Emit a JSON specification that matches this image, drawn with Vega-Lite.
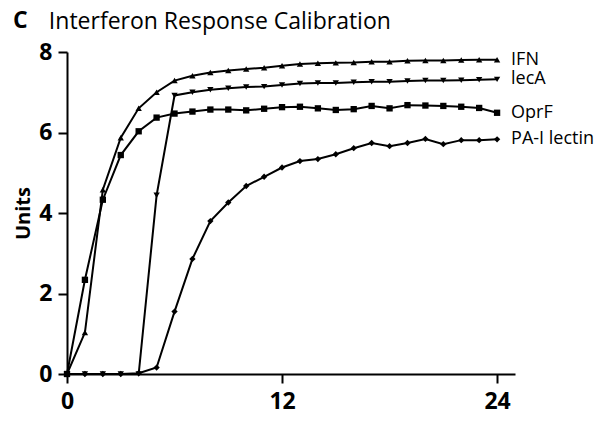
{
  "$schema": "https://vega.github.io/schema/vega-lite/v6.json",
  "width": 448,
  "height": 322,
  "autosize": {"type": "none"},
  "padding": {"left": 67, "top": 52, "right": 85, "bottom": 50},
  "background": "white",
  "title": {
    "text": "C",
    "subtitle": "\u200b\u00a0\u00a0\u00a0\u00a0\u00a0\u00a0Interferon Response Calibration",
    "anchor": "start",
    "frame": "group",
    "dx": -54,
    "offset": 7,
    "font": "Open Sans",
    "fontSize": 23,
    "fontWeight": "bold",
    "color": "black",
    "subtitleFont": "Open Sans",
    "subtitleFontSize": 23,
    "subtitleFontWeight": "normal",
    "subtitleColor": "black",
    "subtitlePadding": -22
  },
  "config": {
    "view": {"stroke": null},
    "font": "Open Sans"
  },
  "data": {
    "values": [
      {"t": 0, "series": "IFN", "v": 0},
      {"t": 1, "series": "IFN", "v": 1.03},
      {"t": 2, "series": "IFN", "v": 4.58},
      {"t": 3, "series": "IFN", "v": 5.87},
      {"t": 4, "series": "IFN", "v": 6.6},
      {"t": 5, "series": "IFN", "v": 7.0},
      {"t": 6, "series": "IFN", "v": 7.29},
      {"t": 7, "series": "IFN", "v": 7.41},
      {"t": 8, "series": "IFN", "v": 7.49},
      {"t": 9, "series": "IFN", "v": 7.54},
      {"t": 10, "series": "IFN", "v": 7.58},
      {"t": 11, "series": "IFN", "v": 7.61},
      {"t": 12, "series": "IFN", "v": 7.66},
      {"t": 13, "series": "IFN", "v": 7.7},
      {"t": 14, "series": "IFN", "v": 7.72},
      {"t": 15, "series": "IFN", "v": 7.73},
      {"t": 16, "series": "IFN", "v": 7.74},
      {"t": 17, "series": "IFN", "v": 7.76},
      {"t": 18, "series": "IFN", "v": 7.76},
      {"t": 19, "series": "IFN", "v": 7.78},
      {"t": 20, "series": "IFN", "v": 7.79},
      {"t": 21, "series": "IFN", "v": 7.79},
      {"t": 22, "series": "IFN", "v": 7.8},
      {"t": 23, "series": "IFN", "v": 7.81},
      {"t": 24, "series": "IFN", "v": 7.81},
      {"t": 0, "series": "lecA", "v": 0},
      {"t": 1, "series": "lecA", "v": 0},
      {"t": 2, "series": "lecA", "v": 0},
      {"t": 3, "series": "lecA", "v": 0},
      {"t": 4, "series": "lecA", "v": 0},
      {"t": 5, "series": "lecA", "v": 4.44},
      {"t": 6, "series": "lecA", "v": 6.92},
      {"t": 7, "series": "lecA", "v": 7.0},
      {"t": 8, "series": "lecA", "v": 7.06},
      {"t": 9, "series": "lecA", "v": 7.1},
      {"t": 10, "series": "lecA", "v": 7.13},
      {"t": 11, "series": "lecA", "v": 7.14},
      {"t": 12, "series": "lecA", "v": 7.18},
      {"t": 13, "series": "lecA", "v": 7.22},
      {"t": 14, "series": "lecA", "v": 7.23},
      {"t": 15, "series": "lecA", "v": 7.23},
      {"t": 16, "series": "lecA", "v": 7.25},
      {"t": 17, "series": "lecA", "v": 7.26},
      {"t": 18, "series": "lecA", "v": 7.26},
      {"t": 19, "series": "lecA", "v": 7.28},
      {"t": 20, "series": "lecA", "v": 7.29},
      {"t": 21, "series": "lecA", "v": 7.29},
      {"t": 22, "series": "lecA", "v": 7.3},
      {"t": 23, "series": "lecA", "v": 7.31},
      {"t": 24, "series": "lecA", "v": 7.32},
      {"t": 0, "series": "OprF", "v": 0},
      {"t": 1, "series": "OprF", "v": 2.34},
      {"t": 2, "series": "OprF", "v": 4.33},
      {"t": 3, "series": "OprF", "v": 5.44},
      {"t": 4, "series": "OprF", "v": 6.03},
      {"t": 5, "series": "OprF", "v": 6.37},
      {"t": 6, "series": "OprF", "v": 6.47},
      {"t": 7, "series": "OprF", "v": 6.52},
      {"t": 8, "series": "OprF", "v": 6.57},
      {"t": 9, "series": "OprF", "v": 6.57},
      {"t": 10, "series": "OprF", "v": 6.55},
      {"t": 11, "series": "OprF", "v": 6.59},
      {"t": 12, "series": "OprF", "v": 6.63},
      {"t": 13, "series": "OprF", "v": 6.64},
      {"t": 14, "series": "OprF", "v": 6.6},
      {"t": 15, "series": "OprF", "v": 6.56},
      {"t": 16, "series": "OprF", "v": 6.58},
      {"t": 17, "series": "OprF", "v": 6.66},
      {"t": 18, "series": "OprF", "v": 6.6},
      {"t": 19, "series": "OprF", "v": 6.68},
      {"t": 20, "series": "OprF", "v": 6.67},
      {"t": 21, "series": "OprF", "v": 6.66},
      {"t": 22, "series": "OprF", "v": 6.64},
      {"t": 23, "series": "OprF", "v": 6.61},
      {"t": 24, "series": "OprF", "v": 6.49},
      {"t": 0, "series": "PA-I lectin", "v": 0},
      {"t": 1, "series": "PA-I lectin", "v": 0},
      {"t": 2, "series": "PA-I lectin", "v": 0},
      {"t": 3, "series": "PA-I lectin", "v": 0},
      {"t": 4, "series": "PA-I lectin", "v": 0.02},
      {"t": 5, "series": "PA-I lectin", "v": 0.16},
      {"t": 6, "series": "PA-I lectin", "v": 1.55},
      {"t": 7, "series": "PA-I lectin", "v": 2.86},
      {"t": 8, "series": "PA-I lectin", "v": 3.8},
      {"t": 9, "series": "PA-I lectin", "v": 4.26},
      {"t": 10, "series": "PA-I lectin", "v": 4.67},
      {"t": 11, "series": "PA-I lectin", "v": 4.9},
      {"t": 12, "series": "PA-I lectin", "v": 5.13},
      {"t": 13, "series": "PA-I lectin", "v": 5.29},
      {"t": 14, "series": "PA-I lectin", "v": 5.34},
      {"t": 15, "series": "PA-I lectin", "v": 5.46},
      {"t": 16, "series": "PA-I lectin", "v": 5.61},
      {"t": 17, "series": "PA-I lectin", "v": 5.74},
      {"t": 18, "series": "PA-I lectin", "v": 5.66},
      {"t": 19, "series": "PA-I lectin", "v": 5.74},
      {"t": 20, "series": "PA-I lectin", "v": 5.84},
      {"t": 21, "series": "PA-I lectin", "v": 5.71},
      {"t": 22, "series": "PA-I lectin", "v": 5.81},
      {"t": 23, "series": "PA-I lectin", "v": 5.81},
      {"t": 24, "series": "PA-I lectin", "v": 5.83}
    ]
  },
  "encoding": {
    "x": {
      "field": "t",
      "type": "quantitative",
      "scale": {"domain": [0, 25], "nice": false, "zero": false},
      "axis": {
        "values": [0, 12, 24],
        "title": null,
        "grid": false,
        "domainColor": "black",
        "domainWidth": 2,
        "tickColor": "black",
        "tickWidth": 2,
        "tickSize": 9,
        "labelFont": "Open Sans",
        "labelFontSize": 23,
        "labelFontWeight": "bold",
        "labelColor": "black",
        "labelPadding": 7,
        "labelFlush": false
      }
    },
    "y": {
      "field": "v",
      "type": "quantitative",
      "scale": {"domain": [0, 8], "nice": false},
      "axis": {
        "values": [0, 2, 4, 6, 8],
        "title": "Units",
        "titleFont": "Open Sans",
        "titleFontSize": 20,
        "titleFontWeight": "bold",
        "titleColor": "black",
        "titlePadding": 5,
        "grid": false,
        "domainColor": "black",
        "domainWidth": 2,
        "tickColor": "black",
        "tickWidth": 2,
        "tickSize": 9,
        "labelFont": "Open Sans",
        "labelFontSize": 23,
        "labelFontWeight": "bold",
        "labelColor": "black",
        "labelPadding": 6,
        "labelFlush": false
      }
    }
  },
  "layer": [
    {
      "mark": {"type": "line", "color": "black", "strokeWidth": 2},
      "encoding": {"detail": {"field": "series"}}
    },
    {
      "mark": {"type": "point", "filled": true, "color": "black", "opacity": 1},
      "encoding": {
        "shape": {
          "field": "series",
          "scale": {
            "domain": ["IFN", "lecA", "OprF", "PA-I lectin"],
            "range": ["triangle-up", "triangle-down", "square", "diamond"]
          },
          "legend": null
        },
        "size": {
          "field": "series",
          "scale": {
            "domain": ["IFN", "lecA", "OprF", "PA-I lectin"],
            "range": [40, 40, 40, 30]
          },
          "legend": null
        }
      }
    },
    {
      "transform": [{"filter": "datum.t == 24"}],
      "mark": {
        "type": "text",
        "align": "left",
        "baseline": "middle",
        "dx": 14,
        "font": "Open Sans",
        "fontSize": 18,
        "color": "black"
      },
      "encoding": {"text": {"field": "series"}}
    }
  ]
}
